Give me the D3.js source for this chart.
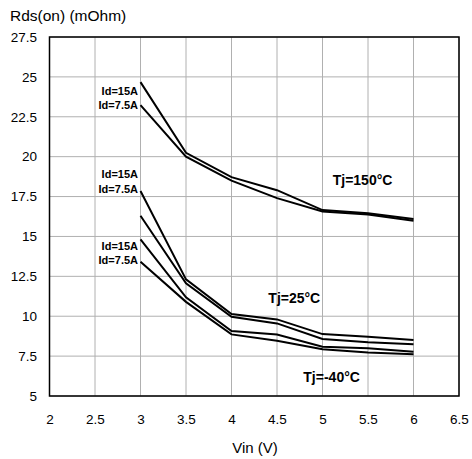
<!DOCTYPE html>
<html lang="en">
<head>
    <meta charset="UTF-8">
    <script src="https://d3js.org/d3.v7.min.js"></script>
    <style>
        body { margin: 0; background: #fff; }
        svg text { font-family: "Liberation Sans", Arial, sans-serif; fill: #000; }
        .grid line { stroke: #b0b0b0; stroke-width: 1; }
        .curve { fill: none; stroke: #000; stroke-width: 2; }
        .lbl { font-weight: bold; }
    </style>
    <title>Rds(on) vs Vin</title>
</head>
<body>
    <svg width="472" height="459"></svg>
    <script>
        // data
        const vin = [3, 3.5, 4, 4.5, 5, 5.5, 6];
        const tj150_15A = [24.67, 20.24, 18.72, 17.9, 16.65, 16.45, 16.1];
        const tj150_7A5 = [23.23, 20.0, 18.5, 17.4, 16.57, 16.38, 15.98];
        const tj25_15A = [17.85, 12.31, 10.14, 9.8, 8.88, 8.72, 8.51];
        const tj25_7A5 = [16.3, 12.06, 9.97, 9.55, 8.57, 8.37, 8.24];
        const tjm40_15A = [14.82, 11.18, 9.07, 8.86, 8.09, 8.0, 7.78];
        const tjm40_7A5 = [13.41, 10.9, 8.86, 8.46, 7.93, 7.72, 7.61];
        const xTicks = [2, 2.5, 3, 3.5, 4, 4.5, 5, 5.5, 6, 6.5];
        const yTicks = [5, 7.5, 10, 12.5, 15, 17.5, 20, 22.5, 25, 27.5];

        const svg = d3.select('svg');
        const margin = { top: 37, right: 13, bottom: 63, left: 49.5 };
        const width = 472, height = 459;
        const innerWidth = width - margin.left - margin.right;
        const innerHeight = height - margin.top - margin.bottom;

        const x = d3.scaleLinear().domain([2, 6.5]).range([0, innerWidth]);
        const y = d3.scaleLinear().domain([5, 27.5]).range([innerHeight, 0]);

        const g = svg.append('g').attr('transform', `translate(${margin.left},${margin.top})`);

        // grid
        g.append('g').attr('class', 'grid')
            .selectAll('line').data(xTicks).enter().append('line')
            .attr('x1', d => x(d)).attr('x2', d => x(d))
            .attr('y1', 0).attr('y2', innerHeight);
        g.append('g').attr('class', 'grid')
            .selectAll('line').data(yTicks).enter().append('line')
            .attr('x1', 0).attr('x2', innerWidth)
            .attr('y1', d => y(d)).attr('y2', d => y(d));

        // axes (labels only)
        const xAxis = g.append('g')
            .attr('transform', `translate(0,${innerHeight})`)
            .call(d3.axisBottom(x).tickValues(xTicks).tickSize(0).tickPadding(18).tickFormat(d3.format('')));
        const yAxis = g.append('g')
            .call(d3.axisLeft(y).tickValues(yTicks).tickSize(0).tickPadding(12.5).tickFormat(d3.format('')));
        [xAxis, yAxis].forEach(a => {
            a.select('.domain').remove();
            a.selectAll('text').style('font-size', '13.5px').style('font-family', '"Liberation Sans", Arial, sans-serif');
        });

        // frame
        g.append('rect').attr('x', 0).attr('y', 0)
            .attr('width', innerWidth).attr('height', innerHeight)
            .attr('fill', 'none').attr('stroke', '#000').attr('stroke-width', 1.5);

        // curves
        const line = d3.line().x((d, i) => x(vin[i])).y(d => y(d));
        [tj150_15A, tj150_7A5, tj25_15A, tj25_7A5, tjm40_15A, tjm40_7A5].forEach(s => {
            g.append('path').attr('class', 'curve').attr('d', line(s));
        });

        // curve labels
        const idLabels = [
            { t: 'Id=15A', v: tj150_15A[0], dy: 13 },
            { t: 'Id=7.5A', v: tj150_7A5[0], dy: 4 },
            { t: 'Id=15A', v: tj25_15A[0], dy: -13 },
            { t: 'Id=7.5A', v: tj25_15A[0], dy: 2 },
            { t: 'Id=15A', v: tjm40_15A[0], dy: 11 },
            { t: 'Id=7.5A', v: tjm40_7A5[0], dy: 2 }
        ];
        g.selectAll('text.id').data(idLabels).enter().append('text')
            .attr('class', 'lbl')
            .attr('x', x(3) - 2.5)
            .attr('y', d => y(d.v) + d.dy)
            .attr('text-anchor', 'end')
            .style('font-size', '11px')
            .text(d => d.t);

        const tjLabels = [
            { t: 'Tj=150°C', vx: 5.44, vy: 18.2 },
            { t: 'Tj=25°C', vx: 4.69, vy: 10.85 },
            { t: 'Tj=-40°C', vx: 5.1, vy: 5.85 }
        ];
        g.selectAll('text.tj').data(tjLabels).enter().append('text')
            .attr('class', 'lbl')
            .attr('x', d => x(d.vx))
            .attr('y', d => y(d.vy))
            .attr('text-anchor', 'middle')
            .style('font-size', '14px')
            .text(d => d.t);

        // axis titles
        svg.append('text').attr('x', 10).attr('y', 21)
            .style('font-size', '15.5px').text('Rds(on) (mOhm)');
        svg.append('text').attr('x', 255).attr('y', 453)
            .attr('text-anchor', 'middle')
            .style('font-size', '15px').text('Vin (V)');
    </script>
</body>
</html>
